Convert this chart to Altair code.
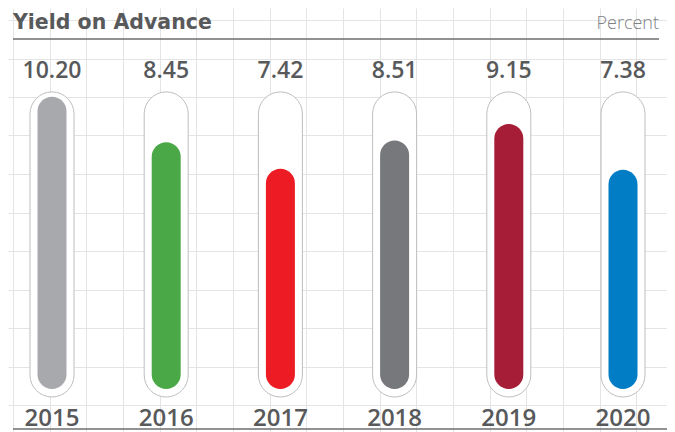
import altair as alt
import pandas as pd

# ---- data ----
years = ["2015", "2016", "2017", "2018", "2019", "2020"]
values = [10.20, 8.45, 7.42, 8.51, 9.15, 7.38]
colors = ["#a7a9ac", "#4ba847", "#ed1c24", "#77787b", "#a51d37", "#007dc5"]
title_text = ["Yield on Advance"]
unit_text = ["Percent"]

# background grid positions (page decoration)
grid_x = [13, 49.7, 86.3, 123, 159.7, 196.3, 233, 269.7, 306.3, 343, 379.7,
          416.3, 453, 489.7, 526.3, 563, 599.7, 636.3]
grid_y = [20, 58.5, 97, 135.5, 174, 212.5, 251, 289.5, 328, 366.5, 405]

# layout constants (value-scale units)
TUBE_TOP = 10.39
TUBE_BOTTOM = -1.39
BAR_BASE = -1.08

FONT = "Open Sans"
TXT = "#58595b"

df = pd.DataFrame({"year": years, "value": values, "color": colors})

W, H = 659, 424

# ---- grid layer (page coordinates) ----
grid = alt.Chart(pd.DataFrame({"a": [0]})).mark_point(opacity=0).encode(
    x=alt.X("a:Q", scale=alt.Scale(domain=[8, 8 + W], nice=False, zero=False),
            axis=alt.Axis(values=grid_x, grid=True, labels=False, ticks=False,
                          domain=False, title=None, gridColor="#e4e4e4", gridWidth=1)),
    y=alt.Y("a:Q", scale=alt.Scale(domain=[8, 8 + H], reverse=True, nice=False, zero=False),
            axis=alt.Axis(values=grid_y, grid=True, labels=False, ticks=False,
                          domain=False, title=None, gridColor="#e4e4e4", gridWidth=1)),
)

xs = alt.X("year:N", sort=years, scale=alt.Scale(type="point", range=[44, 615], padding=0), axis=None)
ys = alt.Scale(domain=[-2, 12], range=[404.8, 42.2], zero=False, nice=False)

tube = alt.Chart(df).mark_bar(size=44, cornerRadius=22, fill="white",
                              stroke="#bcbec0", strokeWidth=1).encode(
    x=xs,
    y=alt.YDatum(TUBE_TOP, scale=ys, axis=None),
    y2=alt.Y2Datum(TUBE_BOTTOM),
)

bars = alt.Chart(df).mark_bar(size=29, cornerRadius=14.5).encode(
    x=xs,
    y=alt.Y("value:Q", scale=ys, axis=None),
    y2=alt.Y2Datum(BAR_BASE),
    color=alt.Color("color:N", scale=None),
)

vals = alt.Chart(df).mark_text(font=FONT, fontSize=23, fontWeight=600, color=TXT,
                               baseline="alphabetic", align="center").encode(
    x=xs, y=alt.value(69.7), text=alt.Text("value:Q", format=".2f"))

yrs = alt.Chart(df).mark_text(font=FONT, fontSize=24, fontWeight=600, color=TXT,
                              baseline="alphabetic", align="center").encode(
    x=xs, y=alt.value(418), text=alt.Text("year:N"))

title = alt.Chart(pd.DataFrame({"t": title_text})).mark_text(
    font="DejaVu Sans", fontSize=20.5, fontWeight="bold", color=TXT, align="left", baseline="alphabetic"
).encode(x=alt.value(5), y=alt.value(20.5), text="t:N")

unit = alt.Chart(pd.DataFrame({"t": unit_text})).mark_text(
    font=FONT, fontSize=18, fontWeight=300, color="#808285", align="right", baseline="alphabetic"
).encode(x=alt.value(651), y=alt.value(21.3), text="t:N")

line_top = alt.Chart(pd.DataFrame({"a": [0]})).mark_rule(color="#6d6e71", strokeWidth=1.5).encode(
    x=alt.value(5), x2=alt.value(651), y=alt.value(31))
line_bot = alt.Chart(pd.DataFrame({"a": [0]})).mark_rule(color="#6d6e71", strokeWidth=1.5).encode(
    x=alt.value(5), x2=alt.value(666), y=alt.value(421))

main = alt.layer(tube, bars, vals, yrs, title, unit, line_top, line_bot)

chart = alt.layer(grid, main).resolve_scale(x="independent", y="independent").properties(
    width=W, height=H, autosize=alt.AutoSizeParams(type="none"), padding=0
).configure_view(stroke=None)

chart.save("out.html", embed_options={"renderer": "svg", "actions": False})
